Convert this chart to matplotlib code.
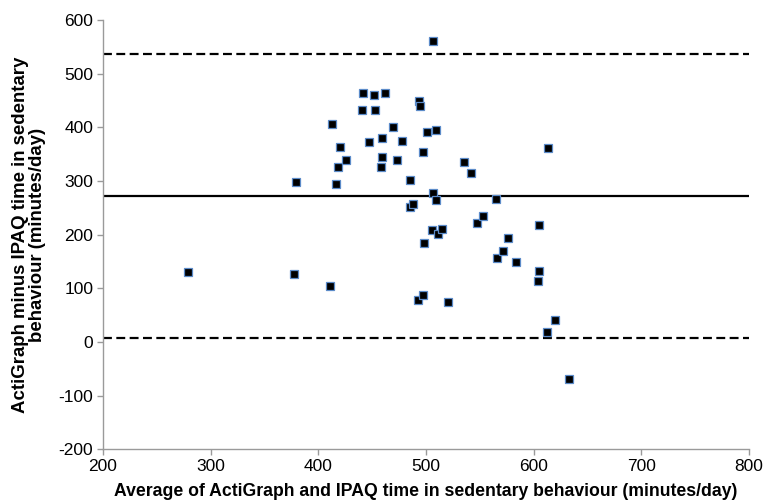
#!/usr/bin/env python3
"""Bland-Altman plot: ActiGraph vs IPAQ sedentary time."""

import matplotlib
matplotlib.use("Agg")
import matplotlib.pyplot as plt

# averages (minutes/day) and differences (ActiGraph - IPAQ)
avg_time = [
    278.7, 377.1, 379.0, 411.1, 412.7, 416.2, 418.6, 420.4, 426.0, 440.6,
    441.2, 446.8, 452.0, 452.3, 457.9, 459.1, 459.1, 462.2, 469.6, 472.8,
    477.7, 484.9, 484.9, 487.5, 492.3, 493.5, 494.4, 496.9, 497.2, 497.9,
    500.7, 506.0, 506.2, 506.2, 509.0, 509.6, 510.7, 515.2, 520.0, 535.1,
    541.8, 547.3, 553.0, 565.3, 565.7, 571.8, 575.9, 583.9, 603.8, 605.3,
    605.3, 612.7, 613.0, 619.6, 632.6,
]
diff_time = [
    130.4, 126.6, 297.5, 104.8, 406.8, 293.8, 325.5, 362.7, 339.7, 432.9,
    463.4, 372.0, 459.6, 432.3, 326.7, 380.1, 345.3, 463.4, 400.6, 339.1,
    373.9, 302.4, 251.8, 257.4, 77.6, 449.0, 439.7, 88.1, 353.4, 183.9,
    391.3, 208.6, 560.3, 278.5, 264.6, 395.0, 200.6, 209.9, 73.9, 334.8,
    314.3, 222.4, 234.2, 266.4, 156.5, 169.0, 193.2, 149.6, 113.0, 218.5,
    132.8, 19.1, 362.0, 40.9, -69.6,
]

mean_diff = 272.5
upper_loa = 537.5
lower_loa = 8.0

x_ticks = [200, 300, 400, 500, 600, 700, 800]
y_ticks = [-200, -100, 0, 100, 200, 300, 400, 500, 600]

plt.rcParams["font.family"] = ["Liberation Sans", "DejaVu Sans"]
plt.rcParams["axes.unicode_minus"] = False

fig = plt.figure(figsize=(7.64, 5.04), dpi=100)
ax = fig.add_axes([0.1348, 0.1085, 0.8456, 0.8518])

ax.axhline(upper_loa, color="black", linestyle=(0, (4, 2)), linewidth=1.6, zorder=2)
ax.axhline(lower_loa, color="black", linestyle=(0, (4, 2)), linewidth=1.6, zorder=2)
ax.axhline(mean_diff, color="black", linestyle="-", linewidth=1.6, zorder=2)

ax.plot(avg_time, diff_time, linestyle="", marker="s", markersize=5.5,
        markerfacecolor="black", markeredgecolor="#5B8BC9", markeredgewidth=0.9,
        zorder=3)

ax.set_xlim(200, 800)
ax.set_ylim(-200, 600)
ax.set_xticks(x_ticks)
ax.set_yticks(y_ticks)

for side in ["top", "right"]:
    ax.spines[side].set_visible(False)
for side in ["left", "bottom"]:
    ax.spines[side].set_color("#9A9A9A")
    ax.spines[side].set_linewidth(1.0)
ax.tick_params(axis="both", direction="out", length=4, width=1.0,
               color="#9A9A9A", labelsize=12.5, pad=3)

ax.set_xlabel("Average of ActiGraph and IPAQ time in sedentary behaviour (minutes/day)",
              fontsize=12.7, fontweight="bold")
ax.xaxis.set_label_coords(0.5, -0.078)
ax.set_ylabel("ActiGraph minus IPAQ time in sedentary\nbehaviour (minutes/day)",
              fontsize=13.4, fontweight="bold", linespacing=1.0)
ax.yaxis.set_label_coords(-0.088, 0.5)

fig.savefig("out.png", dpi=100)
